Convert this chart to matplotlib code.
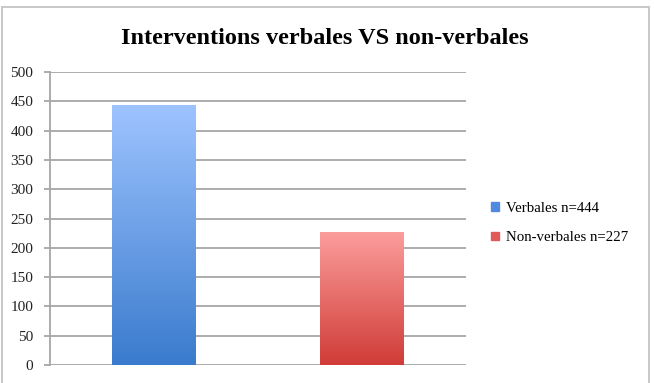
import numpy as np
import matplotlib.pyplot as plt
from matplotlib.colors import LinearSegmentedColormap
from matplotlib.patches import Rectangle

categories = ["Verbales n=444", "Non-verbales n=227"]
values = [444, 227]
top_colors = ["#9ec4ff", "#fc9e9c"]
bottom_colors = ["#3a7bcd", "#d03c37"]
legend_colors = ["#4f8ae0", "#e05a58"]

W, H = 654, 383
fig = plt.figure(figsize=(W / 100, H / 100), dpi=100)
# light grey frame around the chart (bottom edge runs off the image)
fig.patches.append(Rectangle((1.5 / W, -5 / H), 647.5 / W, (H - 6.5 + 5) / H,
                             transform=fig.transFigure, fill=False,
                             edgecolor="#c4c4c4", linewidth=1.3))
ax = fig.add_axes([50 / W, 18 / H, 416 / W, 293 / H])

x = np.arange(len(values))
bars = ax.bar(x, values, width=0.4, color="none", zorder=3)
ax.set_xlim(-0.5, 1.5)
ax.set_ylim(0, 500)

# vertical gradient fill for each bar
for b, top, bot in zip(bars, top_colors, bottom_colors):
    cmap = LinearSegmentedColormap.from_list("g", [bot, top])
    x0, y0 = b.get_x(), b.get_y()
    w, h = b.get_width(), b.get_height()
    grad = np.linspace(0, 1, 256).reshape(-1, 1)
    im = ax.imshow(grad, cmap=cmap, aspect="auto", origin="lower",
                   extent=[x0, x0 + w, y0, y0 + h], zorder=3)
    im.set_clip_path(b)

ax.set_yticks(range(0, 501, 50))
ax.set_xticks([])
ax.yaxis.grid(True, color="#a6a6a6", linewidth=1.3, zorder=0)
for s in ["top", "right", "bottom"]:
    ax.spines[s].set_visible(False)
ax.spines["left"].set_color("#a6a6a6")
ax.spines["left"].set_linewidth(1.3)
ax.tick_params(axis="y", length=4, width=1.3, color="#a6a6a6", labelsize=11,
               pad=8, labelcolor="#222222")
for lab in ax.get_yticklabels():
    lab.set_fontfamily("Liberation Serif")

fig.text(325 / W, 1 - 38 / H, "Interventions verbales VS non-verbales",
         ha="center", va="center", fontsize=17.5, fontweight="bold",
         fontfamily="Liberation Serif")

handles = [Rectangle((0, 0), 1, 1, color=c) for c in legend_colors]
fig.legend(handles, categories, loc="center left",
           bbox_to_anchor=(478 / W, 1 - 223 / H), frameon=False,
           prop={"family": "Liberation Serif", "size": 10.7},
           handlelength=0.5, handleheight=0.5, handletextpad=0.5,
           labelspacing=1.1)

fig.savefig("out.png", dpi=100)
